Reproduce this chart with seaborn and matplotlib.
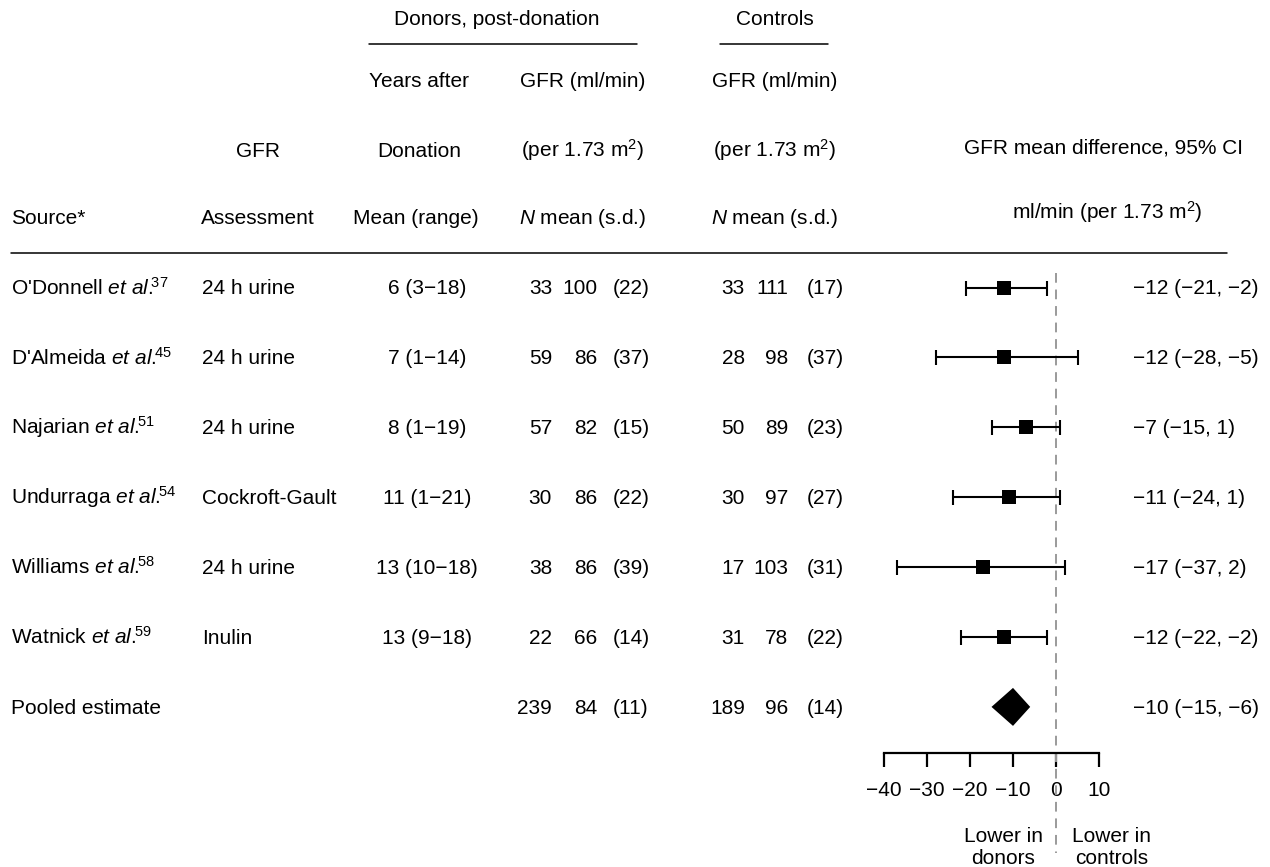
import matplotlib
matplotlib.use("Agg")
import matplotlib.pyplot as plt
import seaborn as sns
import pandas as pd

# study table
sources = ["O'Donnell", "D'Almeida", "Najarian", "Undurraga", "Williams", "Watnick"]
refs = [37, 45, 51, 54, 58, 59]
assessment = ["24 h urine", "24 h urine", "24 h urine", "Cockroft-Gault", "24 h urine", "Inulin"]
years_mean = [6, 7, 8, 11, 13, 13]
years_lo = [3, 1, 1, 1, 10, 9]
years_hi = [18, 14, 19, 21, 18, 18]

# last entry = pooled estimate
donor_n = [33, 59, 57, 30, 38, 22, 239]
donor_mean = [100, 86, 82, 86, 86, 66, 84]
donor_sd = [22, 37, 15, 22, 39, 14, 11]
ctrl_n = [33, 28, 50, 30, 17, 31, 189]
ctrl_mean = [111, 98, 89, 97, 103, 78, 96]
ctrl_sd = [17, 37, 23, 27, 31, 22, 14]

# mean difference as drawn
diff_est = [-12, -12, -7, -11, -17, -12]
diff_lo = [-21, -28, -15, -24, -37, -22]
diff_hi = [-2, 5, 1, 1, 2, -2]
# as printed in the right column
label_lo = [-21, -28, -15, -24, -37, -22]
label_hi = [-2, -5, 1, 1, 2, -2]
pooled_est, pooled_lo, pooled_hi = -10, -15, -6

xticks = [-40, -30, -20, -10, 0, 10]

sns.set_style("white")
plt.rcParams['font.family'] = ['Liberation Sans', 'DejaVu Sans']
plt.rcParams['mathtext.fontset'] = 'custom'
plt.rcParams['mathtext.rm'] = 'Liberation Sans'
plt.rcParams['mathtext.it'] = 'Liberation Sans:italic'

FS = 15
W, H = 1270, 867
ROW0, ROWH = 287.5, 69.9


def row_px(i):
    return ROW0 + ROWH * i


def m(v):
    return str(v).replace("-", "\u2212")


fig = plt.figure(figsize=(12.7, 8.67), dpi=100)
bg = fig.add_axes([0, 0, 1, 1])
bg.set_xlim(0, W)
bg.set_ylim(H, 0)
bg.axis("off")


def txt(x, y, s, ha="center"):
    bg.text(x, y + 7, s, ha=ha, va="baseline", fontsize=FS, color="black")


# header
txt(497, 18, "Donors, post-donation")
bg.plot([369, 637], [44, 44], color="black", lw=1.1)
txt(775, 18, "Controls")
bg.plot([720, 828], [44, 44], color="black", lw=1.1)

txt(419, 80, "Years after")
txt(583, 80, "GFR (ml/min)")
txt(775, 80, "GFR (ml/min)")

txt(258, 150, "GFR")
txt(419, 150, "Donation")
txt(583, 150, "(per 1.73 m$^2$)")
txt(775, 150, "(per 1.73 m$^2$)")
txt(1104, 147, "GFR mean difference, 95% CI")

txt(11, 217, "Source*", ha="left")
txt(258, 217, "Assessment")
txt(416, 217, "Mean (range)")
txt(583, 217, "$N$ mean (s.d.)")
txt(775, 217, "$N$ mean (s.d.)")
txt(1107, 212, "ml/min (per 1.73 m$^2$)")

bg.plot([11, 1227], [253, 253], color="black", lw=1.1)

# study rows
for i in range(len(sources)):
    y = row_px(i)
    txt(11, y, sources[i] + r" $\mathit{et\ al.}\!\!{}^{\mathrm{" + str(refs[i]) + "}}$", ha="left")
    txt(202, y, assessment[i], ha="left")
    txt(427, y, f"{years_mean[i]} ({years_lo[i]}\u2212{years_hi[i]})")
    txt(1133, y, f"{m(diff_est[i])} ({m(label_lo[i])}, {m(label_hi[i])})", ha="left")

for i in range(len(donor_n)):
    y = row_px(i)
    txt(552, y, str(donor_n[i]), ha="right")
    txt(597, y, str(donor_mean[i]), ha="right")
    txt(613, y, f"({donor_sd[i]})", ha="left")
    txt(745, y, str(ctrl_n[i]), ha="right")
    txt(788, y, str(ctrl_mean[i]), ha="right")
    txt(807, y, f"({ctrl_sd[i]})", ha="left")

pi = len(sources)
txt(11, row_px(pi), "Pooled estimate", ha="left")
txt(1133, row_px(pi), f"{m(pooled_est)} ({m(pooled_lo)}, {m(pooled_hi)})", ha="left")

txt(1003, 835, "Lower in")
txt(1003, 857, "donors")
txt(1112, 835, "Lower in")
txt(1112, 857, "controls")

# forest panel
x0, x1 = 884, 1099
y_top, y_axis = 260, 753
ax = fig.add_axes([x0 / W, 1 - y_axis / H, (x1 - x0) / W, (y_axis - y_top) / H])
ax.patch.set_alpha(0)
ax.set_xlim(xticks[0], xticks[-1])
ax.set_ylim((y_axis - ROW0) / ROWH, (y_top - ROW0) / ROWH)

df = pd.DataFrame({"est": diff_est, "lo": diff_lo, "hi": diff_hi,
                   "row": list(range(len(sources)))})

ax.plot([0, 0], [(273 - ROW0) / ROWH, (853 - ROW0) / ROWH], color="#9a9a9a",
        lw=1.4, ls=(0, (5, 3.5)), clip_on=False, zorder=1)

ax.errorbar(df["est"], df["row"], xerr=[df["est"] - df["lo"], df["hi"] - df["est"]],
            fmt="none", ecolor="black", elinewidth=1.5, capsize=5.4, capthick=1.5, zorder=2)
sns.scatterplot(data=df, x="est", y="row", marker="s", s=95, color="black",
                edgecolor="black", linewidth=0, ax=ax, zorder=3, legend=False)

hd = 19 / ROWH
ax.fill([pooled_lo, pooled_est, pooled_hi, pooled_est],
        [pi, pi - hd, pi, pi + hd], color="black", lw=0, zorder=3)

for s in ["left", "top", "right"]:
    ax.spines[s].set_visible(False)
ax.spines["bottom"].set_linewidth(1.6)
ax.spines["bottom"].set_color("black")
ax.set_xticks(xticks)
ax.set_xticklabels([m(t) for t in xticks])
ax.set_yticks([])
ax.tick_params(axis="x", direction="out", length=10, width=1.6, labelsize=FS, pad=10,
               bottom=True, colors="black")
ax.set_xlabel("")
ax.set_ylabel("")

fig.savefig("out.png", dpi=100)
